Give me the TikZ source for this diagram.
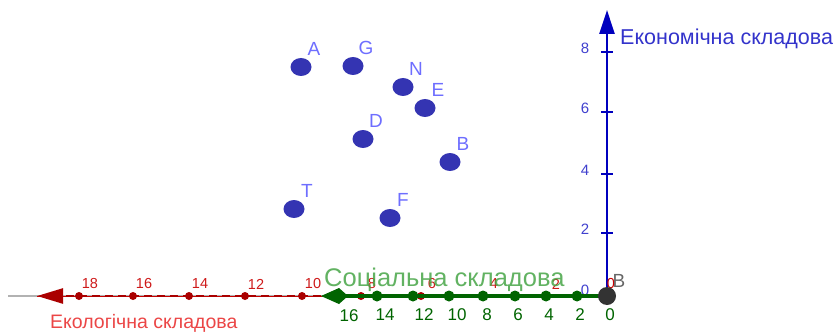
\documentclass[tikz,border=0pt]{standalone}
\usepackage{fontspec}
\setmainfont{Liberation Sans}
\usetikzlibrary{arrows.meta,shapes.geometric}
\definecolor{ptblue}{RGB}{52,52,178}
\definecolor{lblblue}{RGB}{110,110,255}
\definecolor{axblue}{RGB}{0,0,190}
\definecolor{ecored}{RGB}{200,0,0}
\definecolor{ecotext}{RGB}{235,70,70}
\definecolor{socgreen}{RGB}{0,100,0}
\definecolor{soctext}{RGB}{70,165,70}
\begin{document}
\begin{tikzpicture}[x=1pt,y=-1pt,
  pt/.style={ellipse,fill=ptblue,minimum width=21pt,minimum height=18pt,inner sep=0pt},
  ptlbl/.style={text=lblblue,font=\fontsize{19}{19}\selectfont,inner sep=0pt},
  ticklbl/.style={font=\fontsize{15}{15}\selectfont,inner sep=0pt},
  axtitle/.style={anchor=west,inner sep=0pt}]
\useasboundingbox (0,0) rectangle (834,334);
\coordinate (O) at (607,296);
\coordinate (gray0) at (8,296);
\coordinate (ytip) at (607,10);
\coordinate (eco) at (37,296);
\coordinate (soc) at (321,296);
%ECONOMIC
\draw[axblue,line width=2.5pt,-{Triangle[length=24pt,width=15pt]}] (O) -- (ytip);
\foreach \v/\yy in {2/233,4/174,6/112,8/52} {
\draw[axblue,line width=1.5pt] (601,\yy) -- (613,\yy);
\node[ticklbl,text=axblue!75] (e\v) at (585,\yy-4) {\v};
}
\node[ticklbl,text=axblue!75] (e0) at (585,290) {0};
\node[axtitle,text=axblue!80!white,font=\fontsize{21.5}{21.5}\selectfont] (etitle) at (620,39) {Економічна складова};
%ECOLOGICAL
\draw[gray!60,line width=1.5pt] (gray0) -- (O);
\draw[ecored,line width=1pt] (O) -- (eco);
\draw[ecored!85!black,line width=2.5pt,dash pattern=on 8pt off 5pt,-{Triangle[length=26pt,width=15pt]}] (O) -- (eco);
\foreach \v/\xx in {18/79,16/133,14/189,12/245,10/302,8/361,6/421,4/483,2/545} {
\fill[ecored!85!black] (\xx,296) circle (4pt);
\node[ticklbl,text=ecored!90!white,font=\fontsize{14.5}{14.5}\selectfont] (r\v) at (\xx+11,284) {\v};
}
\node[ticklbl,text=ecored,font=\fontsize{14.5}{14.5}\selectfont] (r0) at (611,284) {0};
\node[axtitle,text=ecotext,font=\fontsize{19.5}{19.5}\selectfont] (rtitle) at (50,323) {Екологічна складова};
%SOCIAL
\draw[socgreen,line width=3.5pt,-{Kite[length=27pt,width=16pt,inset=9pt]}] (O) -- (soc);
\foreach \v/\xx/\lx in {14/377/385,12/413/424,10/449/457,8/483/487,6/515/518,4/546/549,2/577/580} {
\fill[socgreen] (\xx,296) circle (5.5pt);
\node[ticklbl,text=socgreen,font=\fontsize{17}{17}\selectfont] (s\v) at (\lx,315) {\v};
}
\node[ticklbl,text=socgreen,font=\fontsize{17}{17}\selectfont] (s16) at (349,316) {16};
\node[ticklbl,text=socgreen,font=\fontsize{17}{17}\selectfont] (s0) at (610,315) {0};
\node[axtitle,text=soctext,opacity=0.85,font=\fontsize{25.5}{25.5}\selectfont] (stitle) at (324,280) {Соціальна складова};
%ORIGIN
\fill[black!80] (O) circle (9pt);
\node[text=black!60,inner sep=0pt,font=\fontsize{19}{19}\selectfont] (oB) at (619,281) {B};
%POINTS
\foreach \n/\x/\y in {A/301/67,G/353/66,N/403/87,E/425/108,D/363/139,B/450/162,T/294/209,F/390/218} {
\node[pt] (\n) at (\x,\y) {};
\node[ptlbl] (l\n) at ([shift={(13,-18)}]\n.center) {\n};
}
\end{tikzpicture}
\end{document}
